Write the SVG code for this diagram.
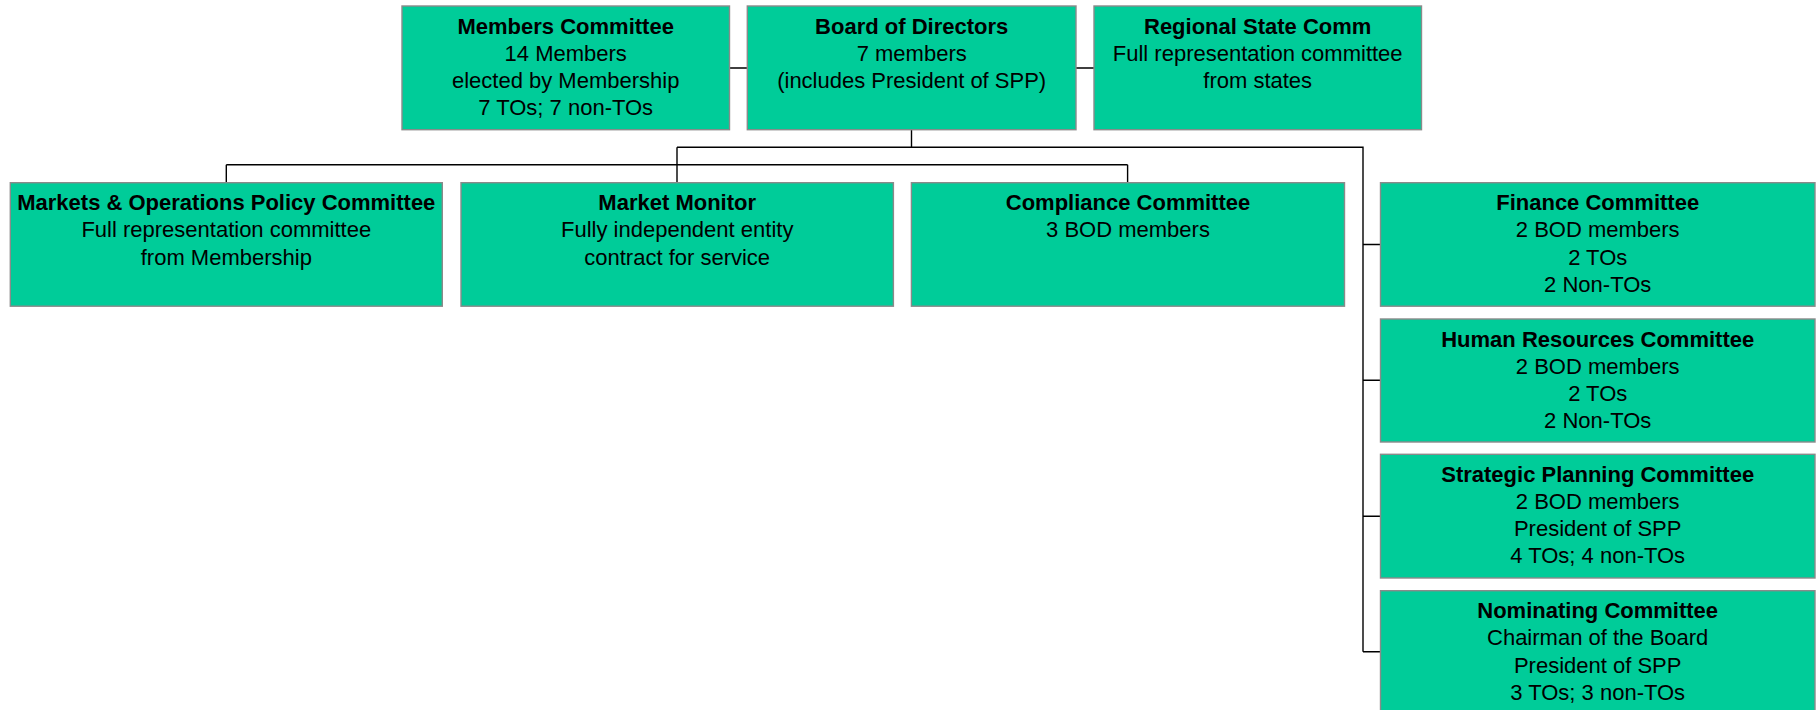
<svg xmlns="http://www.w3.org/2000/svg" width="1816" height="710" viewBox="0 0 1816 710">
<style>
.box{fill:#00CC99;stroke:#8a8a8a;stroke-width:1.4}
.t{font-family:"Liberation Sans",Arial,sans-serif;font-size:22px;fill:#000;text-anchor:middle}
.b{font-weight:bold}
.c{fill:none;stroke:#000;stroke-width:1.4}
</style>
<rect width="1816" height="710" fill="#fff"/>
<g id="connectors">
<path class="c" d="M729.5,68H747.3M1076,68H1094"/>
<path class="c" d="M911.5,130V147.3M677,147.3H1363V651.7M677,147.3V182.7"/>
<path class="c" d="M226.3,164.7H1127.6M226.3,164.7V182.7M1127.6,164.7V182.7"/>
<path class="c" d="M1363,244.5H1380.5M1363,380.3H1380.5M1363,516.3H1380.5M1363,651.7H1380.5"/>
</g>
<g id="members-committee">
<rect class="box" x="402" y="6" width="327.5" height="123.7"/>
<text class="t b" x="565.7" y="33.5">Members Committee</text>
<text class="t" x="565.7" y="60.7">14 Members</text>
<text class="t" x="565.7" y="87.9">elected by Membership</text>
<text class="t" x="565.7" y="115.1">7 TOs; 7 non-TOs</text>
</g>
<g id="board-of-directors">
<rect class="box" x="747.3" y="6" width="328.7" height="123.7"/>
<text class="t b" x="911.7" y="33.5">Board of Directors</text>
<text class="t" x="911.7" y="60.7">7 members</text>
<text class="t" x="911.7" y="87.9">(includes President of SPP)</text>
</g>
<g id="regional-state-comm">
<rect class="box" x="1094" y="6" width="327.5" height="123.7"/>
<text class="t b" x="1257.7" y="33.5">Regional State Comm</text>
<text class="t" x="1257.7" y="60.7">Full representation committee</text>
<text class="t" x="1257.7" y="87.9">from states</text>
</g>
<g id="mopc">
<rect class="box" x="10.3" y="182.7" width="432" height="123.5"/>
<text class="t b" x="226.3" y="210.2">Markets &amp; Operations Policy Committee</text>
<text class="t" x="226.3" y="237.4">Full representation committee</text>
<text class="t" x="226.3" y="264.6">from Membership</text>
</g>
<g id="market-monitor">
<rect class="box" x="461" y="182.7" width="432.4" height="123.5"/>
<text class="t b" x="677.2" y="210.2">Market Monitor</text>
<text class="t" x="677.2" y="237.4">Fully independent entity</text>
<text class="t" x="677.2" y="264.6">contract for service</text>
</g>
<g id="compliance-committee">
<rect class="box" x="911.4" y="182.7" width="433.1" height="123.5"/>
<text class="t b" x="1128" y="210.2">Compliance Committee</text>
<text class="t" x="1128" y="237.4">3 BOD members</text>
</g>
<g id="finance-committee">
<rect class="box" x="1380.5" y="182.7" width="434.5" height="123.5"/>
<text class="t b" x="1597.7" y="210.2">Finance Committee</text>
<text class="t" x="1597.7" y="237.4">2 BOD members</text>
<text class="t" x="1597.7" y="264.6">2 TOs</text>
<text class="t" x="1597.7" y="291.8">2 Non-TOs</text>
</g>
<g id="human-resources-committee">
<rect class="box" x="1380.5" y="319" width="434.5" height="123"/>
<text class="t b" x="1597.7" y="346.5">Human Resources Committee</text>
<text class="t" x="1597.7" y="373.7">2 BOD members</text>
<text class="t" x="1597.7" y="400.9">2 TOs</text>
<text class="t" x="1597.7" y="428.1">2 Non-TOs</text>
</g>
<g id="strategic-planning-committee">
<rect class="box" x="1380.5" y="454.3" width="434.5" height="123.7"/>
<text class="t b" x="1597.7" y="481.8">Strategic Planning Committee</text>
<text class="t" x="1597.7" y="509">2 BOD members</text>
<text class="t" x="1597.7" y="536.2">President of SPP</text>
<text class="t" x="1597.7" y="563.4">4 TOs; 4 non-TOs</text>
</g>
<g id="nominating-committee">
<rect class="box" x="1380.5" y="590.7" width="434.5" height="123.7"/>
<text class="t b" x="1597.7" y="618.2">Nominating Committee</text>
<text class="t" x="1597.7" y="645.4">Chairman of the Board</text>
<text class="t" x="1597.7" y="672.6">President of SPP</text>
<text class="t" x="1597.7" y="699.8">3 TOs; 3 non-TOs</text>
</g>
</svg>
